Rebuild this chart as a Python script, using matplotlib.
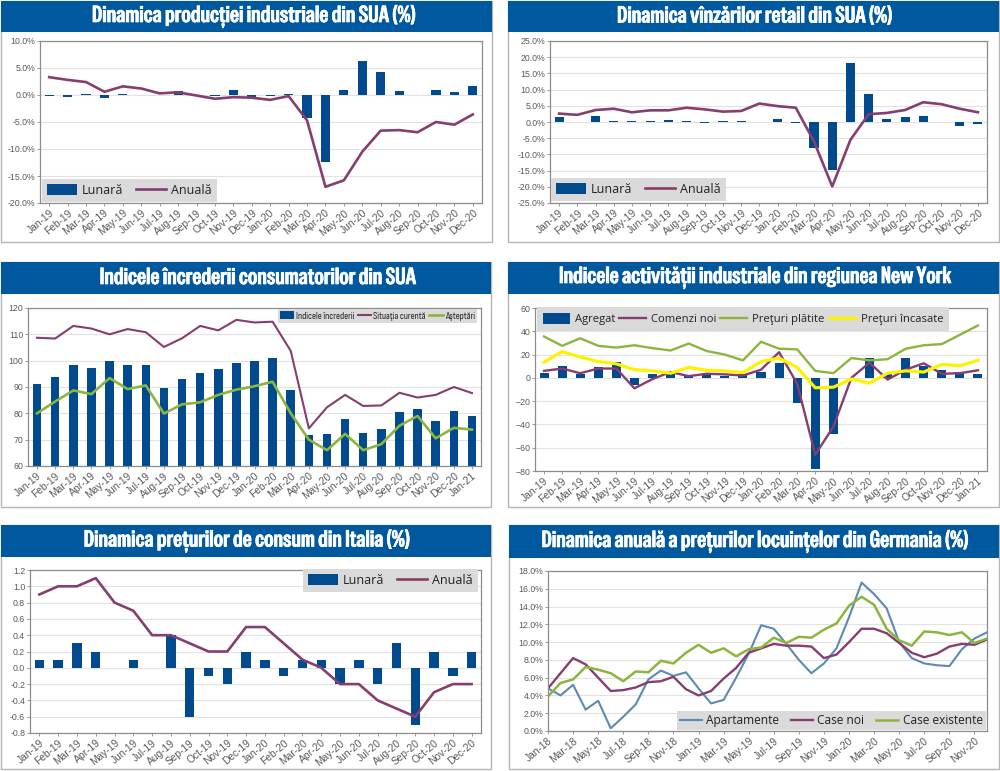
import matplotlib
matplotlib.use("Agg")
import matplotlib.pyplot as plt
import matplotlib.patheffects as pe
from matplotlib.patches import Rectangle
from matplotlib.ticker import FuncFormatter
from matplotlib import font_manager as fm

W, H = 1000, 771
BLUE = "#00589f"; BAR = "#004a8d"; PLUM = "#863e6e"; GREEN = "#8cb53f"; YELLOW = "#fff200"; LBLUE = "#5a8ab5"
TXT = "#5a5a5a"; GRID = "#e2e2e2"; SPINE = "#8c8c8c"
installed = {f.name for f in fm.fontManager.ttflist}
FONT = ["Liberation Sans", "DejaVu Sans"]
HAS_COND = "Special Gothic Condensed One" in installed
TITLEF = ["Special Gothic Condensed One", "DejaVu Sans"] if HAS_COND else ["Liberation Sans", "DejaVu Sans"]
TITLE_FS = 16.5 if HAS_COND else 11
NARROW = ["Sofia Sans Condensed", "Liberation Sans", "DejaVu Sans"] if "Sofia Sans Condensed" in installed else ["Liberation Sans", "DejaVu Sans"]
LEG = ["Open Sans", "DejaVu Sans"]

m1920 = ["Jan-19","Feb-19","Mar-19","Apr-19","May-19","Jun-19","Jul-19","Aug-19","Sep-19","Oct-19","Nov-19","Dec-19",
         "Jan-20","Feb-20","Mar-20","Apr-20","May-20","Jun-20","Jul-20","Aug-20","Sep-20","Oct-20","Nov-20","Dec-20"]
m1921 = m1920 + ["Jan-21"]
m1820 = ["Jan-18","Feb-18","Mar-18","Apr-18","May-18","Jun-18","Jul-18","Aug-18","Sep-18","Oct-18","Nov-18","Dec-18"] + m1920

ind_lunara = [-0.2,-0.3,0.1,-0.6,0.2,0,0,0.8,0,-0.2,0.9,-0.3,-0.2,0.1,-4.3,-12.5,0.9,6.3,4.3,0.8,0,1.0,0.5,1.7]
ind_anuala = [3.3,2.8,2.4,0.6,1.6,1.2,0.3,0.5,-0.1,-0.7,-0.4,-0.5,-0.9,-0.2,-4.7,-17.0,-15.8,-10.5,-6.6,-6.5,-6.9,-5.0,-5.5,-3.6]

ret_lunara = [1.5,0,1.7,0.3,0.3,0.2,0.6,0.4,-0.4,0.4,0.2,0,0.8,-0.2,-8.0,-14.7,18.3,8.5,1.0,1.4,1.7,0,-1.3,-0.5]
ret_anuala = [2.6,2.2,3.7,4.1,3.0,3.6,3.6,4.4,3.9,3.2,3.4,5.7,4.9,4.4,-6.0,-19.9,-5.5,2.4,2.8,3.7,6.1,5.5,4.1,3.0]

con_indice = [91.2,93.7,98.4,97.2,100,98.2,98.4,89.7,93.2,95.5,96.7,99.2,99.7,101,88.9,71.7,72.2,77.9,72.5,74,80.5,81.6,76.9,80.7,79]
con_curenta = [108.7,108.4,113.2,112.2,110,112,110.8,105.2,108.5,113.2,111.5,115.5,114.5,114.8,103.7,74.3,82.3,87,82.8,83,87.8,86,87,90,87.7]
con_asteptari = [80,84.5,88.7,87.3,93.4,89.2,90.6,79.9,83.4,84.2,87,89,90.3,92,80,70,66,72.2,66,68.3,75.3,79,70.5,74.5,73.8]

ny_agregat = [4,10,3.5,9,14,-6,3.5,4.5,2,3,2,3.5,4.8,13,-21.5,-78,-48.5,-0.2,17,3,17,10.5,6.5,5,3.5]
ny_comenzi = [6,8,4,8,8,-9,-1,5,1.5,3.5,3,2,7,22,-5,-66,-42,0,13,-1.5,7,12.5,3.5,4,6.5]
ny_platite = [35.5,27.5,34,27.5,26,28,25.5,23.5,29.5,23,20,15,31,25,24.5,6,4,17,15,16,25,28,29,37,45]
ny_incasate = [13.5,22.5,18,14,12,7,6,4,9,6.5,6,4.5,14,17,9,-8.5,-8,-1,-4.5,4,6,5,11.5,10.5,15]

it_lunara = [.1,.1,.3,.2,0,.1,0,.4,-.6,-.1,-.2,.2,.1,-.1,.1,.1,-.2,.1,-.2,.3,-.7,.2,-.1,.2]
it_anuala = [.9,1,1,1.1,.8,.7,.4,.4,.3,.2,.2,.5,.5,.3,.1,0,-.2,-.2,-.4,-.5,-.6,-.3,-.2,-.2]

de_apart = [4.8,4.0,5.2,2.4,3.4,0.3,1.6,3.0,5.8,6.8,6.2,6.6,4.8,3.1,3.5,6.0,8.7,11.9,11.5,9.8,8.0,6.5,7.6,9.3,12.8,16.7,15.4,13.8,10,8.2,7.6,7.4,7.3,9.2,10.4,11.1]
de_noi = [4.8,6.5,8.2,7.5,6.0,4.5,4.6,4.9,5.5,5.6,6.1,4.7,4.0,4.5,5.9,7.1,8.8,9.3,9.8,9.6,9.6,9.5,8.2,8.6,10.0,11.5,11.5,11.0,9.9,8.8,8.3,8.7,9.5,9.8,9.7,10.3]
de_exist = [3.9,5.4,5.8,7.2,6.9,6.5,5.6,6.7,6.6,7.9,7.6,8.8,9.7,8.8,9.3,8.4,9.2,9.4,10.5,9.9,10.6,10.5,11.4,12.1,14.1,15.1,14.2,11.5,10.2,9.6,11.2,11.1,10.8,11.1,9.9,10.4]

fig = plt.figure(figsize=(W/100, H/100), dpi=100, facecolor="white")

def card(x0, y0, x1, y1, hdr_bottom, title, tx):
    fig.add_artist(Rectangle((x0/W, 1-y1/H), (x1-x0)/W, (y1-y0)/H, transform=fig.transFigure,
                             fc="white", ec="#b5b5b5", lw=1.0, zorder=-2))
    fig.add_artist(Rectangle((x0/W, 1-hdr_bottom/H), (x1-x0)/W, (hdr_bottom-y0)/H, transform=fig.transFigure,
                             fc=BLUE, ec="none", zorder=-1))
    t = fig.text(tx/W, 1-(y0+hdr_bottom)/2/H, title, color="white", ha="center", va="center",
                 family=TITLEF, fontsize=TITLE_FS)
    t.set_path_effects([pe.withStroke(linewidth=0.5, foreground="white")])

def axes(x0, y0, x1, y1):
    ax = fig.add_axes([x0/W, 1-y1/H, (x1-x0)/W, (y1-y0)/H])
    ax.set_axisbelow(True)
    ax.grid(axis="y", color=GRID, lw=0.8)
    for s in ax.spines.values():
        s.set_color(SPINE); s.set_linewidth(0.9)
    ax.tick_params(axis="y", labelsize=6.3, labelcolor=TXT, color=SPINE, length=2, width=0.6, pad=1.5)
    ax.tick_params(axis="x", labelsize=7.4, labelcolor=TXT, color=SPINE, length=2, width=0.6, pad=1.5)
    return ax

def xlabels(ax, labels, step=1):
    ax.set_xticks(range(0, len(labels), step))
    ax.set_xticklabels(labels[::step], rotation=40, ha="right", rotation_mode="anchor", family=FONT)
    for lab in ax.get_yticklabels():
        lab.set_family(FONT)

def legend(ax, handles, box, ncol, fs, hl, cs, hp=0.4, bp=0.4, hh=1.0, family=LEG):
    x0, y0, x1, y1 = box
    p = ax.get_position()
    ax_x = (x0/W - p.x0) / p.width
    ax_y = ((1-y1/H) - p.y0) / p.height
    leg = ax.legend(handles=handles, loc="lower left", bbox_to_anchor=(ax_x, ax_y), borderaxespad=0, ncol=ncol,
                    frameon=True, facecolor="#dadada", edgecolor="none", framealpha=1, fancybox=False,
                    prop={"family": family, "size": fs}, handlelength=hl, columnspacing=cs,
                    handletextpad=hp, borderpad=bp, handleheight=hh)
    for t in leg.get_texts():
        t.set_color("#222222")
    return leg

pct = FuncFormatter(lambda v, _: f"{v:.1f}%")

# Panel 1
card(1, 1, 492, 242, 32, "Dinamica producției industriale din SUA (%)", 253)
ax = axes(40, 41, 482, 203)
x = range(len(m1920))
b = ax.bar(x, ind_lunara, width=0.5, color=BAR, label="Lunară")
l, = ax.plot(x, ind_anuala, color=PLUM, lw=1.9, label="Anuală")
ax.set_xlim(-0.5, 23.5); ax.set_ylim(-20, 10); ax.set_yticks(range(-20, 11, 5))
ax.yaxis.set_major_formatter(pct); xlabels(ax, m1920)
legend(ax, [b, l], (42, 182, 220, 202), 2, 9, 2.4, 1.0)

# Panel 2
card(508, 1, 999, 242, 32, "Dinamica vînzărilor retail din SUA (%)", 754)
ax = axes(550, 41, 987, 203)
b = ax.bar(x, ret_lunara, width=0.5, color=BAR, label="Lunară")
l, = ax.plot(x, ret_anuala, color=PLUM, lw=1.9, label="Anuală")
ax.set_xlim(-0.5, 23.5); ax.set_ylim(-25, 25); ax.set_yticks(range(-25, 26, 5))
ax.yaxis.set_major_formatter(pct); xlabels(ax, m1920)
legend(ax, [b, l], (551, 182, 730, 201), 2, 9, 2.4, 1.0)

# Panel 3
card(1, 262, 491, 507, 294, "Indicele încrederii consumatorilor din SUA", 257)
ax = axes(28, 308, 481, 466)
x25 = range(len(m1921))
b = ax.bar(x25, con_indice, width=0.47, color=BAR, label="Indicele încrederii")
l1, = ax.plot(x25, con_curenta, color=PLUM, lw=1.5, label="Situaţia curentă")
l2, = ax.plot(x25, con_asteptari, color=GREEN, lw=1.9, label="Aşteptări")
ax.set_xlim(-0.5, 24.5); ax.set_ylim(60, 120); ax.set_yticks(range(60, 121, 10)); xlabels(ax, m1921)
legend(ax, [b, l1, l2], (278, 310, 482, 323), 3, 7.1, 1.4, 0.3, hp=0.2, bp=0.25, hh=0.9, family=NARROW)

# Panel 4
card(508, 262, 999, 507, 294, "Indicele activității industriale din regiunea New York", 754)
ax = axes(535, 308, 987, 471)
b = ax.bar(x25, ny_agregat, width=0.5, color=BAR, label="Agregat")
l1, = ax.plot(x25, ny_comenzi, color=PLUM, lw=1.7, label="Comenzi noi")
l2, = ax.plot(x25, ny_platite, color=GREEN, lw=1.7, label="Preţuri plătite")
l3, = ax.plot(x25, ny_incasate, color=YELLOW, lw=2.3, label="Preţuri încasate")
ax.set_xlim(-0.5, 24.5); ax.set_ylim(-80, 60); ax.set_yticks(range(-80, 61, 20)); xlabels(ax, m1921)
legend(ax, [b, l1, l2, l3], (537, 310, 946, 331), 4, 8.1, 2.4, 0.35, hp=0.45, bp=0.5, hh=1.2)

# Panel 5
card(1, 525, 491, 769, 557, "Dinamica prețurilor de consum din Italia (%)", 246)
ax = axes(30, 570, 481, 733)
b = ax.bar(x, it_lunara, width=0.5, color=BAR, label="Lunară")
l, = ax.plot(x, it_anuala, color=PLUM, lw=1.9, label="Anuală")
ax.set_xlim(-0.5, 23.5); ax.set_ylim(-0.8, 1.2); ax.set_yticks([v/10 for v in range(-8, 13, 2)])
ax.yaxis.set_major_formatter(FuncFormatter(lambda v, _: f"{v:.1f}")); xlabels(ax, m1920)
legend(ax, [b, l], (303, 571, 480, 592), 2, 9, 2.4, 1.0)

# Panel 6
card(509, 525, 999, 769, 558, "Dinamica anuală a prețurilor locuințelor din Germania (%)", 754)
ax = axes(548, 571, 987, 731)
x36 = range(len(m1820))
l1, = ax.plot(x36, de_apart, color=LBLUE, lw=1.5, label="Apartamente")
l2, = ax.plot(x36, de_noi, color=PLUM, lw=1.7, label="Case noi")
l3, = ax.plot(x36, de_exist, color=GREEN, lw=1.8, label="Case existente")
ax.set_xlim(0, 35); ax.set_ylim(0, 18); ax.set_yticks(range(0, 19, 2))
ax.yaxis.set_major_formatter(pct); xlabels(ax, m1820, step=2)
legend(ax, [l1, l2, l3], (677, 713, 986, 730), 3, 8.6, 1.85, 1.0, hp=0.35, bp=0.25, hh=0.8)

fig.savefig("out.png", dpi=100)
